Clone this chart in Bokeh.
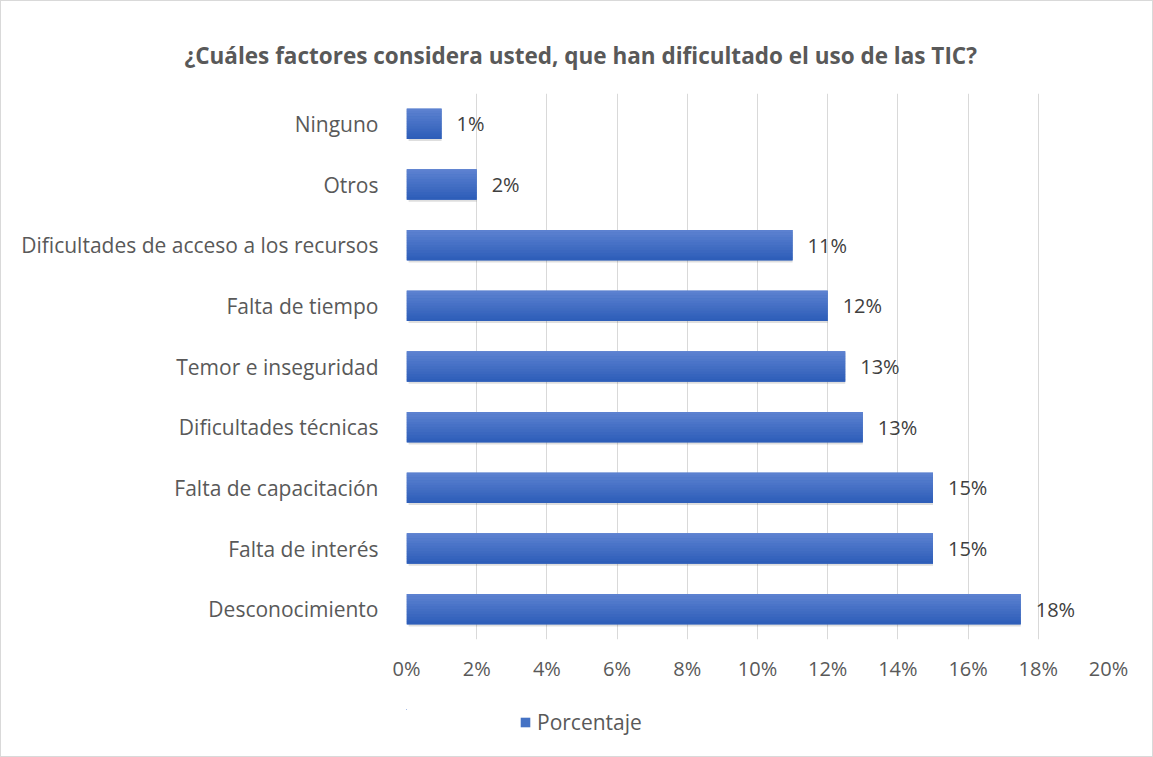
from bokeh.plotting import figure
from bokeh.layouts import column
from bokeh.models import (ColumnDataSource, FactorRange, Range1d, FixedTicker,
                          PrintfTickFormatter, Title, Legend, LegendItem, LabelSet)
from bokeh.core.properties import value
from bokeh.transform import dodge
from bokeh.embed import file_html
from bokeh.resources import INLINE

# ---- data (bottom to top) ----
categories = ["Desconocimiento", "Falta de interés", "Falta de capacitación",
              "Dificultades técnicas", "Temor e inseguridad", "Falta de tiempo",
              "Dificultades de acceso a los recursos", "Otros", "Ninguno"]
values = [17.5, 15.0, 15.0, 13.0, 12.5, 12.0, 11.0, 2.0, 1.0]
value_labels = ["18%", "15%", "15%", "13%", "13%", "12%", "11%", "2%", "1%"]
x_ticks = [0, 2, 4, 6, 8, 10, 12, 14, 16, 18, 20]
series_name = "Porcentaje"
title_text = "¿Cuáles factores considera usted, que han dificultado el uso de las TIC?"

FONT = "Open Sans"
TXT = "#595959"

src = ColumnDataSource(dict(cat=categories, val=values, lab=value_labels))

p = figure(frame_width=702, frame_height=546,
           y_range=FactorRange(*categories), x_range=Range1d(0, 20),
           output_backend="svg", toolbar_location=None,
           min_border_left=405, min_border_right=44,
           min_border_top=92, min_border_bottom=70)
p.outline_line_color = None

# shadow
p.hbar(y=dodge("cat", -0.035, range=p.y_range), left=0.06, right="val", height=0.5,
       source=src, fill_color="#000000", fill_alpha=0.13, line_color=None)
# base bar
p.hbar(y="cat", right="val", height=0.5, source=src,
       fill_color="#4472C4", line_color=None)
# gradient strips
n = 12
top = (0x5E, 0x83, 0xD1)
bot = (0x2C, 0x5C, 0xB8)
for i in range(n):
    t = (i + 0.5) / n
    c = tuple(int(round(top[k] + (bot[k] - top[k]) * t)) for k in range(3))
    col = "#%02x%02x%02x" % c
    off = 0.25 - (i + 0.5) * (0.5 / n)
    p.hbar(y=dodge("cat", off, range=p.y_range), right="val", height=0.5 / n + 0.004,
           source=src, fill_color=col, line_color=None)

# data labels
p.add_layout(LabelSet(x="val", y="cat", text="lab", source=src, x_offset=15,
                      text_baseline="middle", text_align="left",
                      text_font=value(FONT), text_font_size="20px",
                      text_color="#404040"))

# axes
p.xaxis.ticker = FixedTicker(ticks=x_ticks)
p.xaxis.formatter = PrintfTickFormatter(format="%d%%")
for ax in (p.xaxis[0], p.yaxis[0]):
    ax.axis_line_color = None
    ax.major_tick_line_color = None
    ax.minor_tick_line_color = None
    ax.major_label_text_font = FONT
    ax.major_label_text_color = TXT
p.xaxis.major_label_text_font_size = "20px"
p.yaxis.major_label_text_font_size = "21px"
p.xaxis.major_label_standoff = 9
p.yaxis.major_label_standoff = 22

p.xgrid.ticker = FixedTicker(ticks=x_ticks)
p.xgrid.grid_line_color = "#D9D9D9"
p.xgrid.grid_line_width = 1
p.ygrid.grid_line_color = None

# title
p.add_layout(Title(text=title_text, align="left", offset=-222, standoff=45,
                   text_font=FONT, text_font_style="bold", text_font_size="22.5px",
                   text_color=TXT), "above")

# legend strip (separate small figure; its bars lie fully outside its ranges)
p2 = figure(width=1151, height=47, x_range=Range1d(100, 101),
            y_range=FactorRange(*categories),
            output_backend="svg", toolbar_location=None,
            x_axis_location=None, y_axis_location=None, min_border=0)
p2.grid.visible = False
p2.outline_line_color = None
leg_r = p2.hbar(y=dodge("cat", 50, range=p2.y_range), right="val", height=0.5,
                source=src, fill_color="#4472C4", line_color=None)
leg = Legend(items=[LegendItem(label=series_name, renderers=[leg_r])],
             location=(113, 20), orientation="horizontal",
             glyph_width=12, glyph_height=12, label_standoff=6,
             label_text_font=FONT, label_text_font_size="21px",
             label_text_color=TXT, border_line_color=None,
             background_fill_alpha=0, padding=0, margin=0)
p2.add_layout(leg, "center")

layout = column(p, p2, styles={"border": "1px solid #D9D9D9"})

open("out.html", "w").write(file_html(layout, INLINE))
